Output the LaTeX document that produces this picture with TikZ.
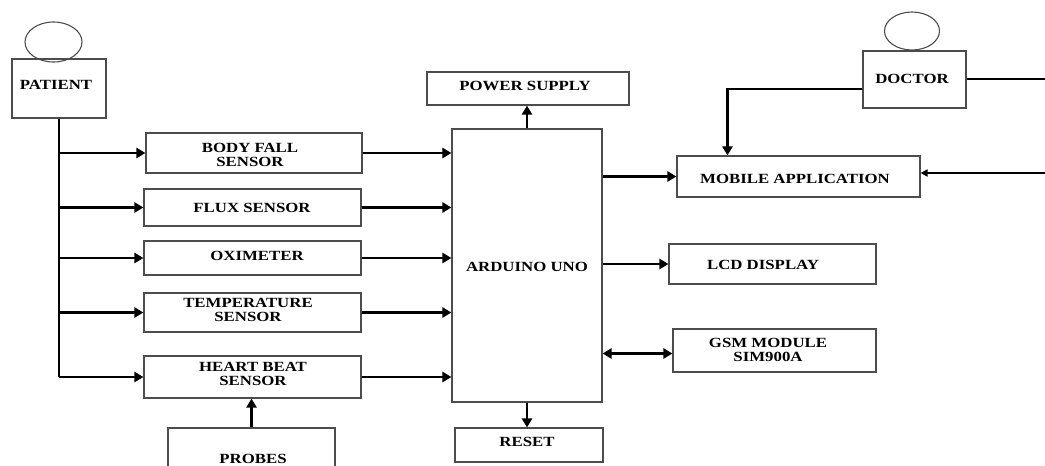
\documentclass[tikz,border=0pt]{standalone}
\usepackage{fontspec}
\setmainfont{Liberation Serif}[FakeStretch=1.2]
\usetikzlibrary{arrows.meta,shapes.geometric}
\begin{document}
\begin{tikzpicture}[x=1pt,y=-1pt,
  box/.style={draw=black!70,line width=1.1pt,rectangle,inner sep=0pt},
  lbl/.style={font=\fontsize{14}{13.5}\selectfont\bfseries,align=center,inner sep=0pt},
  head/.style={draw=black!70,line width=1.1pt,ellipse,inner sep=0pt},
  conn/.style={line width=2.6pt,-{Triangle[length=9pt,width=10pt]}},
  dconn/.style={line width=2.6pt,{Triangle[length=9pt,width=10pt]}-{Triangle[length=9pt,width=10pt]}},
  plain/.style={line width=2.2pt}]
\useasboundingbox (0,0) rectangle (1045,466);
\clip (0,0) rectangle (1045,466);
% patient
\node[head,minimum width=57pt,minimum height=40pt] (phead) at (53.5,42) {};
\node[box,minimum width=94pt,minimum height=59pt] (patient) at (59,88.5) {};
\node[lbl] (ptxt) at (56,84.5) {PATIENT};
% sensors
\node[box,minimum width=216pt,minimum height=40pt] (bf) at (254,153) {};
\node[lbl] (bft) at (250,155) {BODY FALL\\SENSOR};
\node[box,minimum width=217pt,minimum height=37pt] (fx) at (252.5,207.5) {};
\node[lbl] (fxt) at (252,208) {FLUX SENSOR};
\node[box,minimum width=217pt,minimum height=34pt] (ox) at (252.5,258) {};
\node[lbl] (oxt) at (257,256) {OXIMETER};
\node[box,minimum width=217pt,minimum height=39pt] (tp) at (252.5,312.5) {};
\node[lbl] (tpt) at (248,310) {TEMPERATURE\\SENSOR};
\node[box,minimum width=217pt,minimum height=42pt] (hb) at (252.5,377) {};
\node[lbl] (hbt) at (253,374) {HEART BEAT\\SENSOR};
\node[box,minimum width=167pt,minimum height=68pt] (pr) at (251.5,462) {};
\node[lbl] (prt) at (253,458.5) {PROBES};
% arduino
\node[box,minimum width=150pt,minimum height=273pt] (ard) at (527,265.5) {};
\node[lbl] (ardt) at (527,267) {ARDUINO UNO};
\node[box,minimum width=202pt,minimum height=33pt] (ps) at (528,88.5) {};
\node[lbl] (pst) at (525,86) {POWER SUPPLY};
\node[box,minimum width=148pt,minimum height=34pt] (rs) at (529,445) {};
\node[lbl] (rst) at (527,442) {RESET};
% outputs
\node[box,minimum width=243pt,minimum height=41pt] (app) at (798.5,176.5) {};
\node[lbl] (appt) at (795,179) {MOBILE APPLICATION};
\node[box,minimum width=207pt,minimum height=40pt] (lcd) at (772.5,264) {};
\node[lbl] (lcdt) at (763,265) {LCD DISPLAY};
\node[box,minimum width=203pt,minimum height=43pt] (gsm) at (774.5,350.5) {};
\node[lbl] (gsmt) at (768,350) {GSM MODULE\\SIM900A};
% doctor
\node[head,minimum width=55pt,minimum height=38pt] (dhead) at (912,31) {};
\node[box,minimum width=103pt,minimum height=57pt] (doc) at (914.5,79.5) {};
\node[lbl] (doct) at (912,79) {DOCTOR};
% connectors
\coordinate (trunkend) at (59.5,377);
\draw[plain] (patient.south) -- (patient.south |- trunkend);
\foreach \n in {bf,fx,ox,tp,hb} {
  \draw[conn] (patient.south |- \n.west) -- (\n.west);
  \draw[conn] (\n.east) -- (\n.east -| ard.west);
}
\draw[conn] (pr.north) -- (pr.north |- hb.south);
\draw[conn] (ard.north) -- (ard.north |- ps.south);
\draw[conn] (ard.south) -- (ard.south |- rs.north);
\draw[conn] (ard.east |- app.west) -- (app.west);
\draw[conn] (ard.east |- lcd.west) -- (lcd.west);
\draw[dconn] ([yshift=-3pt]ard.east |- gsm.west) -- ([yshift=-3pt]gsm.west);
\coordinate (dright) at (1045,79);
\draw[line width=1.8pt] (doc.east |- dright) -- (dright);
\coordinate (dk) at ([xshift=51pt]app.north west);
\draw[conn] ([yshift=-9.5pt]doc.west) -| (dk);
\coordinate (rin) at (1045,173);
\draw[line width=2.2pt,-{Triangle[length=7pt,width=7pt]}] (rin) -- (rin -| app.east);
\end{tikzpicture}
\end{document}
